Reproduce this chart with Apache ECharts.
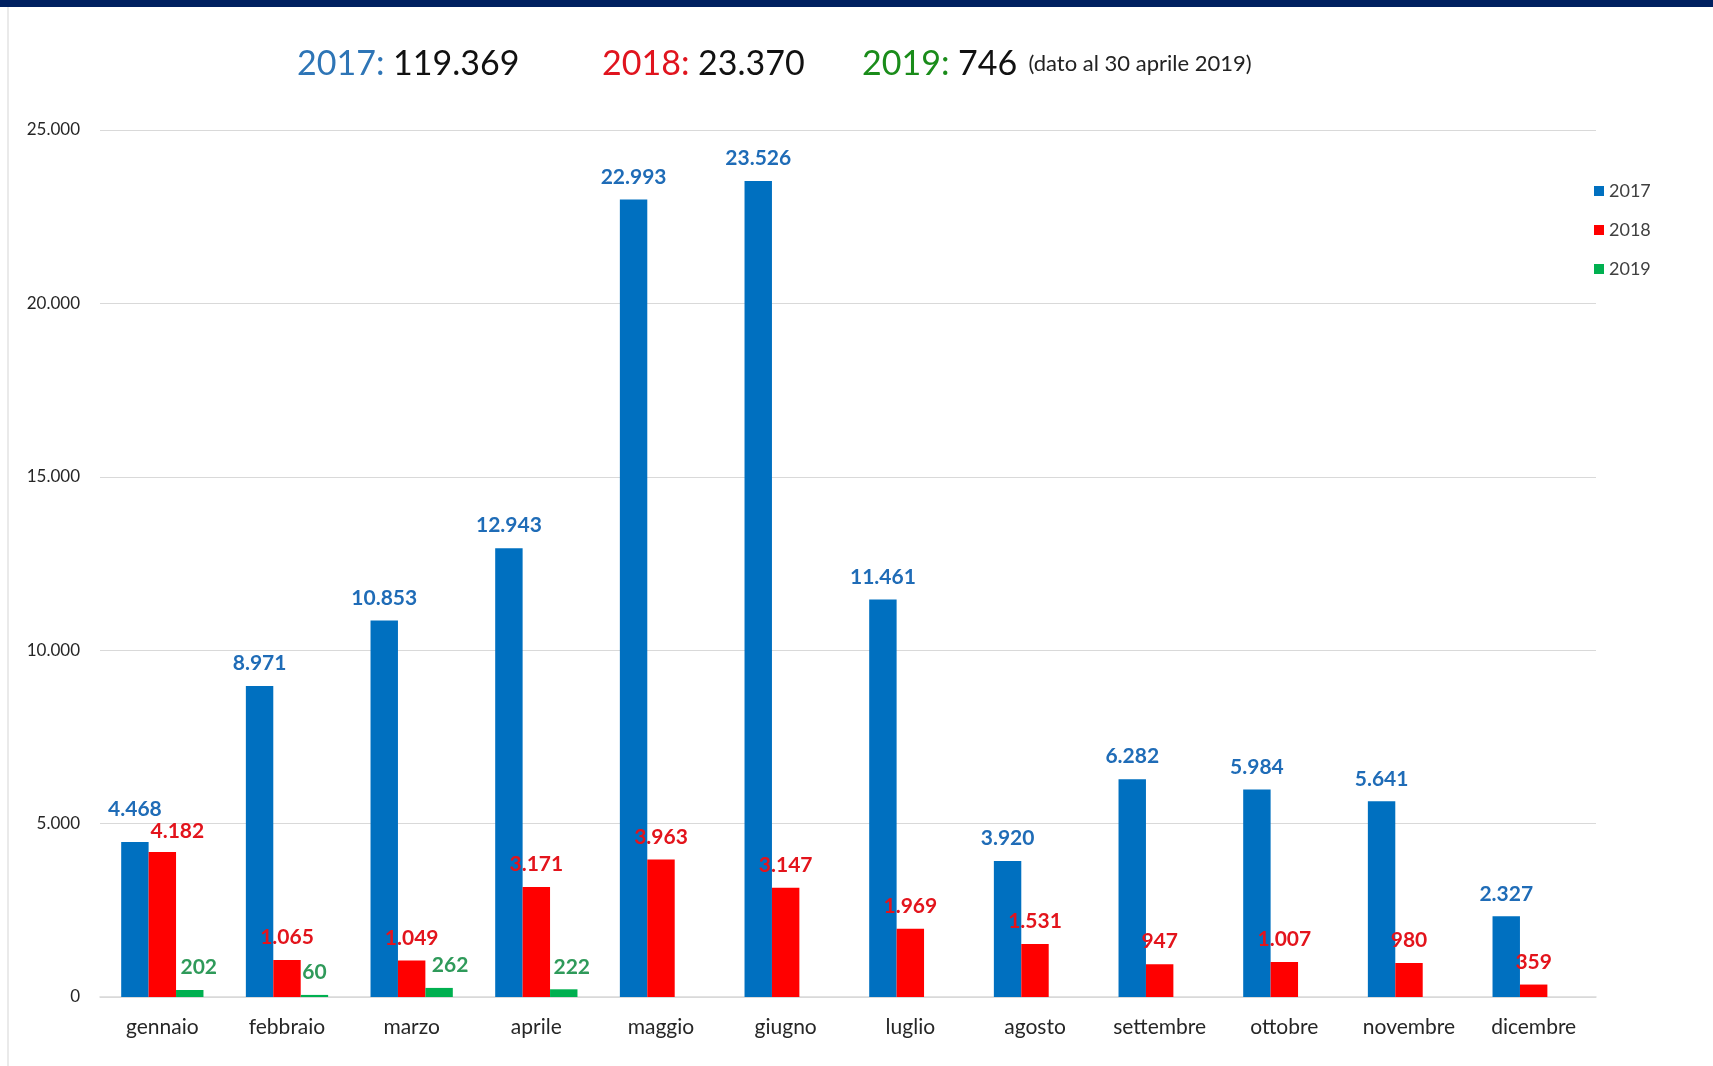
<!DOCTYPE html>
<html>
<head>
<meta charset="utf-8">
<title>Arrivi per mese 2017-2019</title>
<script src="https://cdn.jsdelivr.net/npm/echarts@6/dist/echarts.min.js"></script>
<style>
  html, body { margin: 0; padding: 0; background: #ffffff; }
  #chart { width: 1713px; height: 1066px; }
</style>
</head>
<body>
<div id="chart"></div>
<script>
// Monthly values per year
const months = ['gennaio', 'febbraio', 'marzo', 'aprile', 'maggio', 'giugno',
  'luglio', 'agosto', 'settembre', 'ottobre', 'novembre', 'dicembre'];
const years = ['2017', '2018', '2019'];
const values2017 = [4468, 8971, 10853, 12943, 22993, 23526, 11461, 3920, 6282, 5984, 5641, 2327];
const values2018 = [4182, 1065, 1049, 3171, 3963, 3147, 1969, 1531, 947, 1007, 980, 359];
const values2019 = [202, 60, 262, 222, null, null, null, null, null, null, null, null];
const yearTotals = ['119.369', '23.370', '746'];
const yTicks = [0, 5000, 10000, 15000, 20000, 25000];

const FONT = 'Lato, "Open Sans", sans-serif';
const barColors = ['#0070C0', '#FF0000', '#00B050'];
const labelColors = ['#1F6CB7', '#E3141C', '#2F9A5A'];
const titleColors = ['#2E75B6', '#E0141E', '#1A8C1A'];

// Thousands separator with a dot
function fmt(v) {
  return String(Math.round(v)).replace(/\B(?=(\d{3})+(?!\d))/g, '.');
}

// Individual label nudges [dx, dy] for crowded groups
const labelNudge = {
  0: { 0: [0, -10] },
  1: { 0: [15, 2] },
  2: { 0: [9, 0], 2: [11, 0], 3: [8, 0] }
};

function buildData(values, seriesIdx) {
  return values.map(function (v, i) {
    if (v === null) return '-';
    const nudge = labelNudge[seriesIdx] && labelNudge[seriesIdx][i];
    if (nudge) {
      return { value: v, label: { offset: nudge } };
    }
    return v;
  });
}

const seriesValues = [values2017, values2018, values2019];

const chart = echarts.init(document.getElementById('chart'), null, { renderer: 'canvas' });

const option = {
  backgroundColor: '#ffffff',
  animation: false,
  textStyle: { fontFamily: FONT },
  title: years.map(function (y, i) {
    const lefts = [297, 602, 862];
    let text = '{y|' + y + ':}{n| ' + yearTotals[i] + '}';
    if (i === 2) text += '{s|  (dato al 30 aprile 2019)}';
    return {
      text: text,
      left: lefts[i],
      top: 42,
      padding: 0,
      textStyle: {
        fontFamily: FONT,
        fontWeight: 'normal',
        rich: {
          y: { fontFamily: FONT, fontWeight: 'normal', fontSize: 34, color: titleColors[i], lineHeight: 44 },
          n: { fontFamily: FONT, fontWeight: 'normal', fontSize: 34, color: '#111111', lineHeight: 44 },
          s: { fontFamily: FONT, fontWeight: 'normal', fontSize: 22, color: '#222222', lineHeight: 44 }
        }
      }
    };
  }),
  legend: {
    orient: 'vertical',
    left: 1594,
    top: 181,
    itemWidth: 10,
    itemHeight: 10,
    itemGap: 19,
    icon: 'rect',
    padding: 0,
    data: years,
    textStyle: { fontFamily: FONT, fontSize: 18, color: '#404040', lineHeight: 20 }
  },
  grid: { left: 100, right: 117, top: 130, bottom: 69, containLabel: false },
  xAxis: {
    type: 'category',
    data: months,
    axisTick: { show: false },
    axisLine: { lineStyle: { color: '#D9D9D9', width: 1.5 } },
    axisLabel: { fontFamily: FONT, fontSize: 21, color: '#262626', margin: 20 }
  },
  yAxis: {
    type: 'value',
    min: yTicks[0],
    max: yTicks[yTicks.length - 1],
    interval: yTicks[1] - yTicks[0],
    axisLine: { show: false },
    axisTick: { show: false },
    splitLine: { lineStyle: { color: '#D9D9D9', width: 1 } },
    axisLabel: {
      fontFamily: FONT, fontSize: 17, color: '#262626', margin: 20,
      formatter: function (v) { return fmt(v); }
    }
  },
  series: years.map(function (y, i) {
    return {
      name: y,
      type: 'bar',
      data: buildData(seriesValues[i], i),
      barGap: '0%',
      barCategoryGap: '34%',
      itemStyle: { color: barColors[i] },
      label: {
        show: true,
        position: 'top',
        distance: 12,
        fontFamily: FONT,
        fontSize: 21,
        fontWeight: 'bold',
        color: labelColors[i],
        formatter: function (p) { return fmt(p.value); }
      }
    };
  }),
  graphic: [
    { type: 'rect', left: 0, top: 0, shape: { x: 0, y: 0, width: 1713, height: 7 }, style: { fill: '#002060' } },
    { type: 'line', shape: { x1: 8, y1: 7, x2: 8, y2: 1066 }, style: { stroke: '#E3E3E3', lineWidth: 1.5 } }
  ]
};

chart.setOption(option);
</script>
</body>
</html>
